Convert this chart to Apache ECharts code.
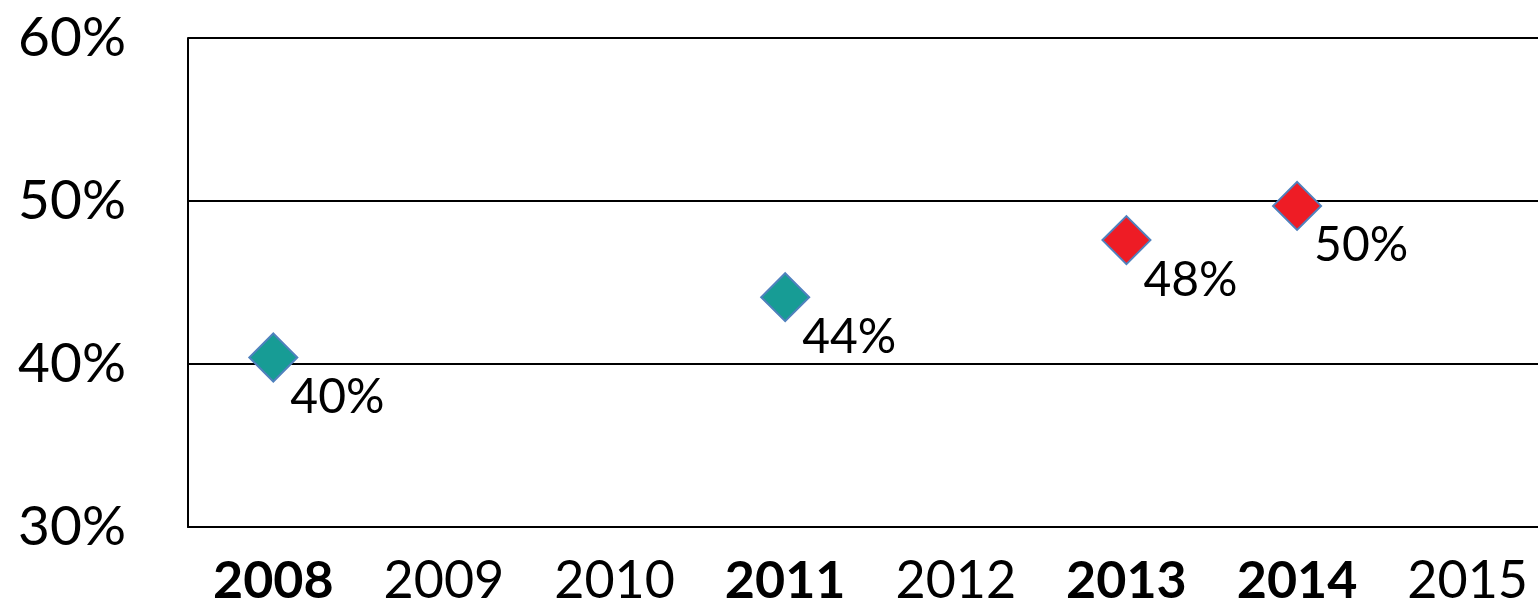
<!DOCTYPE html>
<html>
<head>
<meta charset="utf-8">
<script src="https://cdn.jsdelivr.net/npm/echarts@6/dist/echarts.min.js"></script>
<style>
html,body{margin:0;padding:0;background:#fff;overflow:hidden;width:1538px;height:607px;}
#chart{width:1570px;height:607px;}
</style>
</head>
<body>
<div id="chart"></div>
<script>
const categories = ['2008','2009','2010','2011','2012','2013','2014','2015'];
const boldYears = ['2008','2011','2013','2014'];
const tealValues = [40.4, null, null, 44.1, null, null, null, null];
const redValues = [null, null, null, null, null, 47.6, 49.7, null];
const yTicks = [30, 40, 50, 60];

const chart = echarts.init(document.getElementById('chart'));
const font = 'Lato, "Open Sans", sans-serif';
function labelCfg() {
  return {
    show: true,
    position: 'inside',
    align: 'left',
    verticalAlign: 'middle',
    offset: [17, 40],
    fontFamily: font,
    fontSize: 48,
    color: '#000',
    opacity: 1,
    formatter: p => Math.round(p.value) + '%'
  };
}
chart.setOption({
  animation: false,
  grid: { left: 188, top: 38, width: 1365, height: 490 },
  xAxis: {
    type: 'category',
    data: categories,
    boundaryGap: true,
    axisLine: { show: true, lineStyle: { color: '#000', width: 2 } },
    axisTick: { show: false },
    axisLabel: {
      interval: 0,
      margin: 28,
      fontFamily: font,
      fontSize: 52,
      color: '#000',
      formatter: v => boldYears.includes(v) ? '{b|' + v + '}' : '{n|' + v + '}',
      rich: {
        b: { fontFamily: font, fontSize: 52, fontWeight: 'bold', color: '#000' },
        n: { fontFamily: font, fontSize: 52, color: '#000' }
      }
    }
  },
  yAxis: {
    type: 'value',
    min: yTicks[0],
    max: yTicks[yTicks.length - 1],
    interval: 10,
    axisLine: { show: true, lineStyle: { color: '#000', width: 2 } },
    axisTick: { show: false },
    splitLine: { show: true, lineStyle: { color: '#000', width: 2 } },
    axisLabel: {
      margin: 62,
      fontFamily: font,
      fontSize: 55,
      color: '#000',
      formatter: v => v + '%'
    }
  },
  series: [
    {
      type: 'scatter',
      data: tealValues,
      symbol: 'diamond',
      symbolSize: 48,
      itemStyle: { color: '#179c95', borderColor: '#4f81bd', borderWidth: 2, opacity: 1 },
      label: labelCfg()
    },
    {
      type: 'scatter',
      data: redValues,
      symbol: 'diamond',
      symbolSize: 48,
      itemStyle: { color: '#ee1c25', borderColor: '#4f81bd', borderWidth: 2, opacity: 1 },
      label: labelCfg()
    }
  ]
});
</script>
</body>
</html>
